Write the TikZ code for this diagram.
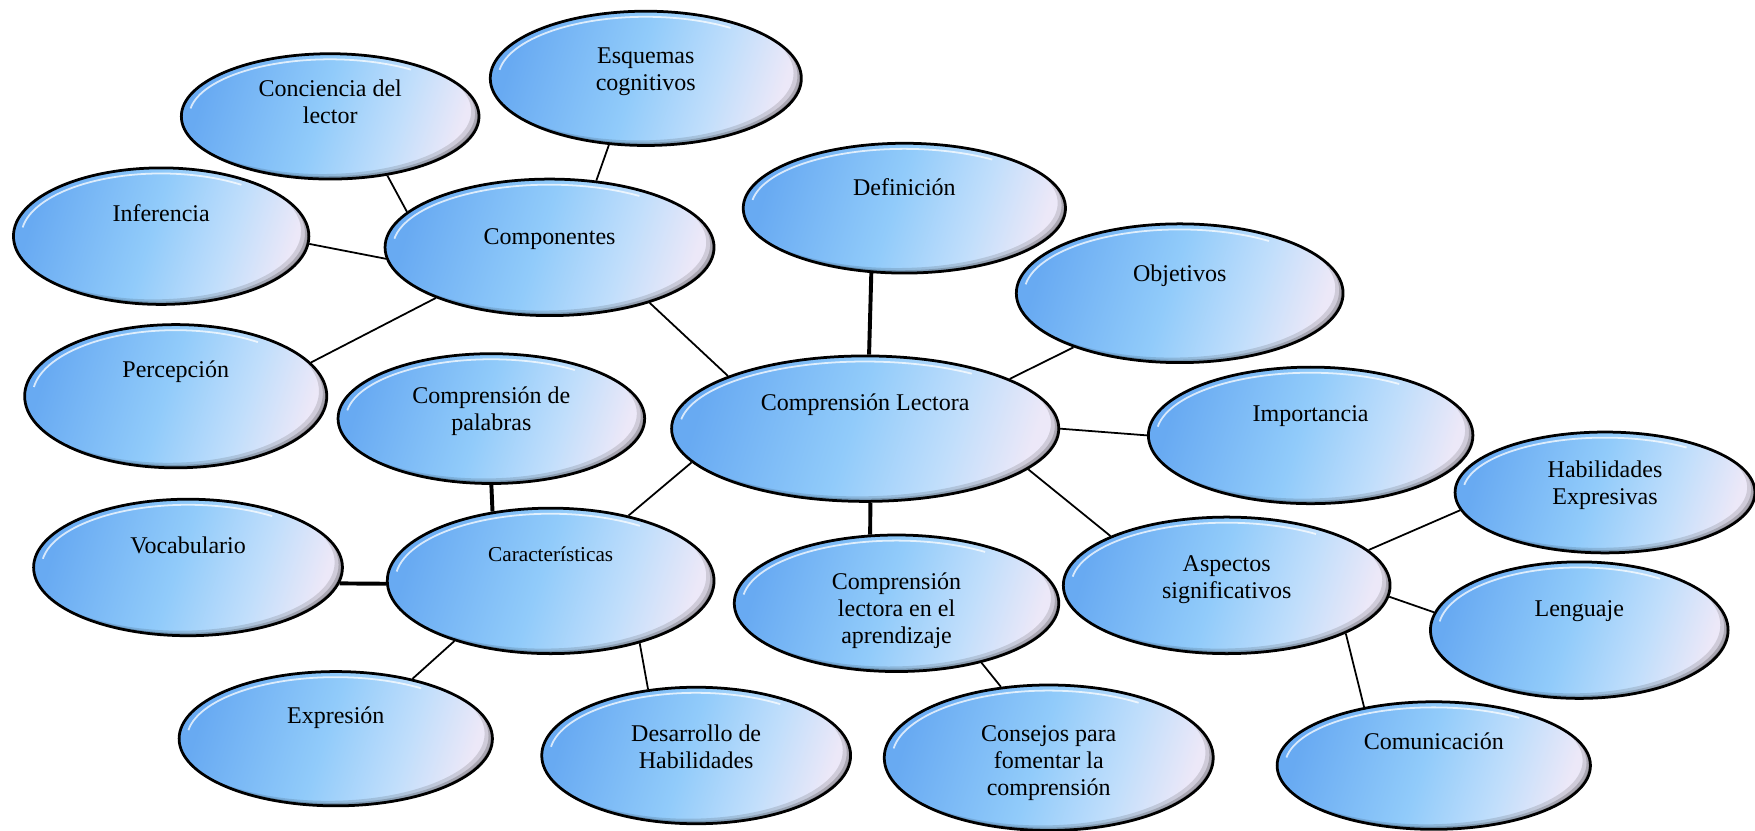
\documentclass[tikz,border=0pt]{standalone}
\usepackage{fontspec}
\setmainfont{Liberation Serif}
\usetikzlibrary{shapes.geometric}
\usetikzlibrary{calc}

\definecolor{bubbleblue}{RGB}{104,170,242}
\definecolor{bubblemid}{RGB}{145,203,250}
\definecolor{bubblelight}{RGB}{192,222,251}
\definecolor{bubblelav}{RGB}{236,232,248}
\pgfdeclarehorizontalshading{bubbleshade}{100bp}{color(0bp)=(bubbleblue); color(25bp)=(bubbleblue);
  color(48bp)=(bubblemid); color(63bp)=(bubblelight); color(75bp)=(bubblelav); color(100bp)=(bubblelav)}

% text sits in the upper part of each bubble
\newcommand{\btext}[2][0.27cm]{\raisebox{#1}[0pt][0pt]{\begin{tabular}[t]{@{}c@{}}#2\end{tabular}}}

\tikzset{
  bubble/.style={ellipse,draw=black,line width=1.4pt,inner sep=0pt,
    shading=bubbleshade,shading angle=-18,
    font=\fontsize{12.2}{13.7}\selectfont,
    path picture={
      \fill[black,opacity=.12,even odd rule]
        let \p1=(path picture bounding box.center),\p2=(path picture bounding box.north east)
        in (path picture bounding box.south west) rectangle (path picture bounding box.north east)
        ([xshift=-0.14cm,yshift=0.09cm]\p1) ellipse [x radius=\x2-\x1,y radius=\y2-\y1];
      \fill[black,opacity=.18,even odd rule]
        let \p1=(path picture bounding box.center),\p2=(path picture bounding box.north east)
        in (path picture bounding box.south west) rectangle (path picture bounding box.north east)
        ([xshift=-0.07cm,yshift=0.05cm]\p1) ellipse [x radius=\x2-\x1,y radius=\y2-\y1];
      \fill[black,opacity=.22,even odd rule]
        let \p1=(path picture bounding box.center),\p2=(path picture bounding box.north east)
        in (path picture bounding box.south west) rectangle (path picture bounding box.north east)
        ([xshift=-0.03cm,yshift=0.02cm]\p1) ellipse [x radius=\x2-\x1,y radius=\y2-\y1];
      \draw[white,opacity=.75,line width=0.9pt]
        let \p1=(path picture bounding box.center),\p2=(path picture bounding box.north east),
            \n1={\x2-\x1-0.14cm},\n2={\y2-\y1-0.1cm}
        in ($(\p1)+(172:\n1 and \n2)$) arc[start angle=172,end angle=55,x radius=\n1,y radius=\n2];
    }},
  link/.style={line width=0.9pt},
  thicklink/.style={line width=2pt}
}

\begin{document}
\begin{tikzpicture}[x=0.02cm,y=-0.02cm]
  \useasboundingbox (0,0) rectangle (1568,742);
  \node[bubble,minimum width=5.56cm,minimum height=2.40cm] (esq) at (577,70) {\btext{Esquemas\\cognitivos}};
  \node[bubble,minimum width=5.32cm,minimum height=2.24cm] (conc) at (295,104) {\btext[0.35cm]{Conciencia del\\lector}};
  \node[bubble,minimum width=5.28cm,minimum height=2.44cm] (inf) at (144,211) {\btext{Inferencia}};
  \node[bubble,minimum width=5.88cm,minimum height=2.44cm] (compo) at (491,221) {\btext[0.05cm]{Componentes}};
  \node[bubble,minimum width=5.40cm,minimum height=2.56cm] (perc) at (157,354) {\btext[0.33cm]{Percepción}};
  \node[bubble,minimum width=5.48cm,minimum height=2.32cm] (cpal) at (439,374) {\btext{Comprensión de\\palabras}};
  \node[bubble,minimum width=5.76cm,minimum height=2.32cm] (defi) at (808,186) {\btext[0.23cm]{Definición}};
  \node[bubble,minimum width=5.84cm,minimum height=2.48cm] (obj) at (1054,262) {\btext[0.21cm]{Objetivos}};
  \node[bubble,minimum width=6.92cm,minimum height=2.60cm] (cl) at (773,383) {\btext[0.33cm]{Comprensión Lectora}};
  \node[bubble,minimum width=5.80cm,minimum height=2.44cm] (imp) at (1171,389) {\btext[0.25cm]{Importancia}};
  \node[bubble,minimum width=5.36cm,minimum height=2.16cm] (habx) at (1434,440) {\btext{Habilidades\\Expresivas}};
  \node[bubble,minimum width=5.52cm,minimum height=2.44cm] (voc) at (168,507) {\btext[0.25cm]{Vocabulario}};
  \node[bubble,minimum width=5.84cm,minimum height=2.60cm,font=\fontsize{10.8}{12.5}\selectfont] (car) at (492,519) {\btext[0.35cm]{Características}};
  \node[bubble,minimum width=5.80cm,minimum height=2.44cm] (apr) at (801,539) {\btext[0.25cm]{Comprensión\\lectora en el\\aprendizaje}};
  \node[bubble,minimum width=5.84cm,minimum height=2.44cm] (asp) at (1096,523) {\btext[0.25cm]{Aspectos\\significativos}};
  \node[bubble,minimum width=5.32cm,minimum height=2.44cm] (len) at (1411,563) {\btext[0.25cm]{Lenguaje}};
  \node[bubble,minimum width=5.60cm,minimum height=2.40cm] (expr) at (300,660) {\btext{Expresión}};
  \node[bubble,minimum width=5.52cm,minimum height=2.44cm] (des) at (622,675) {\btext[0.25cm]{Desarrollo de\\Habilidades}};
  \node[bubble,minimum width=5.88cm,minimum height=2.60cm] (cons) at (937,677) {\btext[0.29cm]{Consejos para\\fomentar la\\comprensión}};
  \node[bubble,minimum width=5.60cm,minimum height=2.28cm] (com) at (1281,684) {\btext[0.29cm]{Comunicación}};
  % connectors
  \draw[link] (esq.241) -- (compo.55);
  \draw[link] (conc.-46) -- (compo.166);
  \draw[link] (inf.-3) -- (compo.184);
  \draw[link] (perc.14) -- (compo.204);
  \draw[link] (compo.-29) -- (cl.159);
  \draw[thicklink] (defi.243) -- (cl.87);
  \draw[link] (obj.207) -- (cl.19);
  \draw[link] (cl.east) -- (imp.west);
  \draw[link] (cl.-14) -- (asp.157);
  \draw[link] (cl.191) -- (car.40);
  \draw[thicklink] (cl.274) -- (apr.111);
  \draw[thicklink] (cpal.south) -- (car.130);
  \draw[thicklink] (voc.-6) -- (car.181);
  \draw[link] (car.212) -- (expr.38);
  \draw[link] (car.-35) -- (des.126);
  \draw[link] (apr.-35) -- (cons.124);
  \draw[link] (asp.14) -- (habx.187);
  \draw[link] (asp.-4) -- (len.173);
  \draw[link] (asp.-22) -- (com.140);
\end{tikzpicture}
\end{document}
